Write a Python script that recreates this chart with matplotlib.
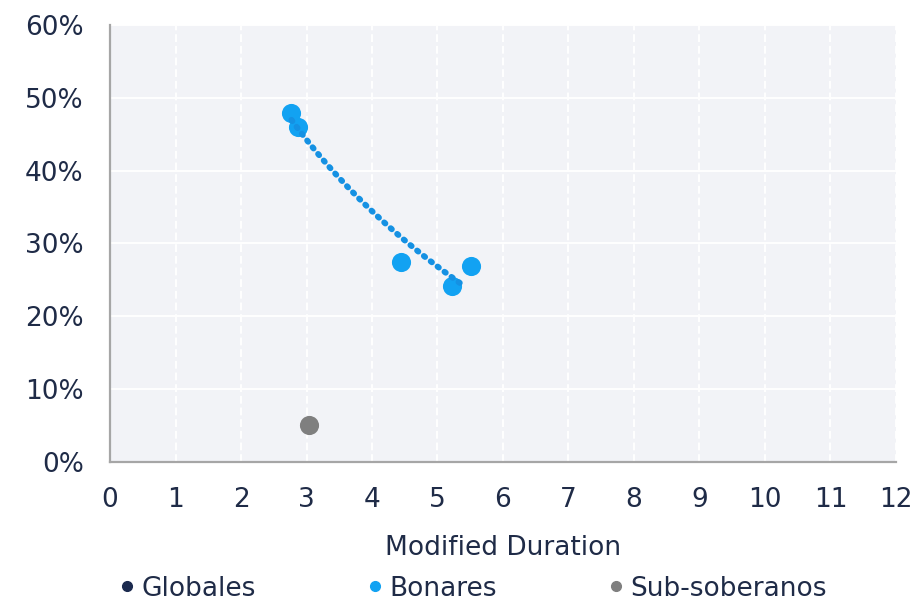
import numpy as np
import matplotlib
matplotlib.use("Agg")
import matplotlib.pyplot as plt
from matplotlib.lines import Line2D
from matplotlib.ticker import FuncFormatter, MultipleLocator

# Data
bonares_dur = [2.77, 2.87, 4.44, 5.22, 5.51]
bonares_yld = [47.9, 46.0, 27.5, 24.2, 26.9]
subsob_dur = [3.04]
subsob_yld = [5.1]
globales_dur = []
globales_yld = []
trend_range = [2.77, 5.37]
series_names = ["Globales", "Bonares", "Sub-soberanos"]
x_label = "Modified Duration"

NAVY = "#1B2A4E"
BLUE = "#12A2F2"
TREND = "#1591E3"
GRAY = "#7F7F7F"
TEXT = "#1F2B47"

plt.rcParams['font.family'] = ['DejaVu Sans']
FS = 19

fig = plt.figure(figsize=(9.17, 6.03), dpi=100)
ax = fig.add_axes([0.12, 0.234, 0.857, 0.7245])
ax.set_facecolor("#F2F3F7")

ax.set_xlim(0, 12)
ax.set_ylim(0, 60)
ax.xaxis.set_major_locator(MultipleLocator(1))
ax.yaxis.set_major_locator(MultipleLocator(10))
ax.yaxis.set_major_formatter(FuncFormatter(lambda v, p: f"{v:.0f}%"))

ax.grid(axis='x', color='white', linestyle=(0, (4, 2)), linewidth=1.4)
ax.grid(axis='y', color='white', linestyle='-', linewidth=1.4)
ax.set_axisbelow(True)

for s in ['top', 'right']:
    ax.spines[s].set_visible(False)
for s in ['left', 'bottom']:
    ax.spines[s].set_color('#A6A6A6')
    ax.spines[s].set_linewidth(1.6)

ax.tick_params(axis='both', length=0, labelsize=FS, colors=TEXT)
ax.tick_params(axis='y', pad=19)
ax.tick_params(axis='x', pad=18)
for lbl in ax.get_yticklabels():
    lbl.set_verticalalignment('center_baseline')

# Logarithmic trend line fitted to Bonares
bx = np.array(bonares_dur)
by = np.array(bonares_yld)
b, a = np.polyfit(np.log(bx), by, 1)
tx = np.linspace(trend_range[0], trend_range[1], 100)
ty = a + b * np.log(tx)

ax.scatter(globales_dur, globales_yld, s=190, color=NAVY, zorder=3)
ax.scatter(bonares_dur, bonares_yld, s=190, color=BLUE, zorder=3, linewidths=0)
ax.plot(tx, ty, color=TREND, linestyle=(0, (0.25, 1.2)), linewidth=4.3,
        dash_capstyle='round', solid_capstyle='round', zorder=4)
ax.scatter(subsob_dur, subsob_yld, s=190, color=GRAY, zorder=3, linewidths=0)

ax.set_xlabel(x_label, fontsize=FS, color=TEXT, labelpad=16)

handles = [Line2D([], [], marker='o', linestyle='none', color=c, markersize=7)
           for c in [NAVY, BLUE, GRAY]]
fig.legend(handles, series_names, loc='center', bbox_to_anchor=(0.513, 0.024),
           ncol=3, frameon=False, fontsize=FS, handletextpad=0.05,
           columnspacing=4.0, labelcolor=TEXT, handlelength=1.0,
           borderaxespad=0, borderpad=0)

fig.savefig("out.png", dpi=100)
